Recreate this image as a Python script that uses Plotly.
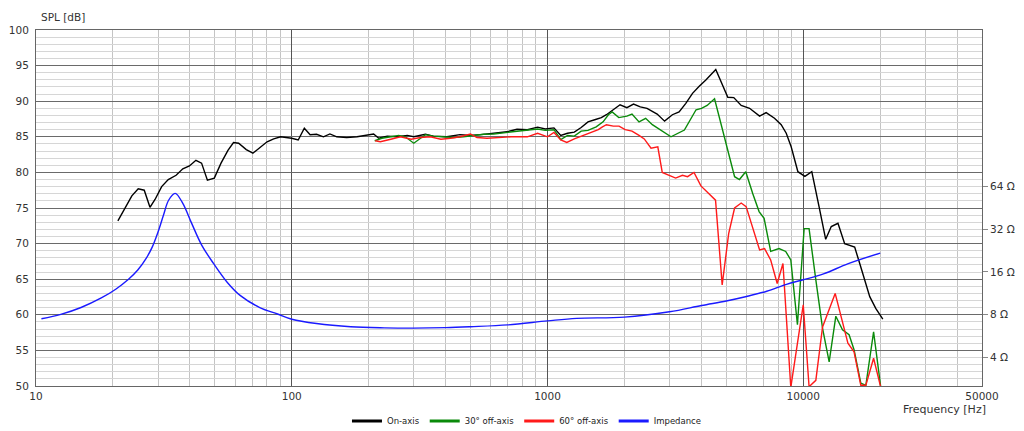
import plotly.graph_objects as go
import math

# ---------------- data ----------------
on_freq = [20.9, 22.3, 23.7, 25.1, 26.5, 27.9, 29.2, 31.0, 32.9, 35.3, 37.5, 39.8, 42.2, 44.4, 46.8, 49.8,
           52.9, 56.3, 59.2, 62.0, 66.4, 70.5, 74.9, 80.1, 85.0, 90.5, 95, 100, 106, 112, 118, 125, 133,
           141, 150, 164, 180, 198, 209, 219, 236, 258, 283, 300, 333, 358, 404, 455, 500, 548, 616,
           695, 760, 834, 915, 980, 1060, 1127, 1198, 1273, 1354, 1440, 1530, 1624, 1700, 1809, 1922,
           2044, 2170, 2306, 2450, 2684, 2870, 3078, 3270, 3474, 3690, 3920, 4170, 4550, 4770, 5070,
           5350, 5720, 6170, 6750, 7160, 7720, 8200, 8580, 8970, 9530, 10150, 10800, 11530, 12240,
           12870, 13670, 14520, 15890, 16630, 18200, 19210, 20470]
on_spl = [73.2, 75.0, 76.7, 77.7, 77.5, 75.1, 76.2, 78.0, 79.0, 79.6, 80.5, 80.9, 81.7, 81.3, 78.9, 79.2,
          81.3, 83.1, 84.2, 84.1, 83.2, 82.7, 83.4, 84.3, 84.7, 85.0, 84.9, 84.8, 84.55, 86.2, 85.3, 85.35, 85.0,
          85.4, 85.0, 84.9, 85.0, 85.2, 85.4, 84.8, 85.1, 85.0, 85.2, 85.0, 85.35, 85.1, 85.0, 85.3, 85.2, 85.3, 85.5,
          85.7, 86.05, 86.0, 86.35, 86.1, 86.25, 85.2, 85.5, 85.65, 86.3, 87.1, 87.4, 87.7, 88.1, 88.8, 89.5,
          89.1, 89.6, 89.2, 89.0, 88.2, 87.2, 88.1, 88.5, 89.7, 91.1, 92.1, 93.0, 94.45, 92.7, 90.55,
          90.5, 89.4, 89.0, 87.9, 88.4, 87.6, 86.7, 85.5, 83.6, 80.1, 79.45, 80.1, 75.2, 70.6,
          72.4, 72.85, 70.0, 69.5, 67.2, 62.55, 60.9, 59.4]

off30_freq = [211, 225, 244, 262, 278, 300, 319, 333, 358, 392, 429, 469, 514, 564, 616, 695, 760, 834,
              915, 980, 1060, 1127, 1198, 1273, 1354, 1440, 1550, 1650, 1730, 1790, 1900, 2044, 2140,
              2280, 2420, 2570, 2820, 3040, 3430, 3810, 4000, 4210, 4500, 5390, 5630, 5960, 6350,
              6720, 7030, 7460, 8040, 8540, 8940, 9490, 10080, 10540, 11200, 11900, 12630, 13410,
              14240, 15110, 15800, 16790, 17570, 18840, 20100]
off30_spl = [84.45, 84.8, 85.0, 85.2, 85.0, 84.1, 84.8, 85.3, 85.1, 85.0, 84.9, 85.0, 85.2, 85.35, 85.4, 85.6, 85.8, 85.9,
             86.1, 85.9, 86.0, 84.6, 85.2, 85.1, 85.8, 85.9, 86.4, 87.1, 88.1, 88.5, 87.7, 87.9, 88.2,
             87.1, 87.6, 86.7, 85.7, 85.0, 85.95, 88.8, 89.0, 89.4, 90.35, 79.4, 79.0, 80.1, 77.0,
             74.5, 73.55, 68.9, 69.3, 68.9, 67.7, 58.6, 72.1, 72.1, 64.9, 58.1, 53.4, 59.8,
             57.9, 57.2, 55.1, 50.4, 50.1, 57.6, 49.8]

off60_freq = [212, 222, 244, 266, 293, 319, 348, 383, 418, 455, 500, 530, 580, 640, 720, 834, 915, 1000,
              1060, 1127, 1190, 1273, 1354, 1440, 1510, 1580, 1640, 1700, 1809, 1904, 2013, 2140, 2280,
              2390, 2540, 2700, 2810, 2985, 3170, 3370, 3530, 3740, 3980, 4540, 4820, 5110, 5390, 5720,
              5980, 6750, 7060, 7460, 7910, 8330, 8940, 9490, 10000, 10540, 11200, 11900, 13330, 14950,
              15800, 16790, 17570, 18840, 20100]
off60_spl = [84.45, 84.3, 84.65, 85.0, 84.65, 84.9, 85.0, 84.65, 84.8, 85.0, 85.4, 84.9, 84.8, 84.9, 85.0, 85.0, 85.5, 85.0,
             85.6, 84.55, 84.2, 84.7, 85.05, 85.5, 85.7, 86.0, 86.4, 86.7, 86.5, 86.5, 86.0, 85.8, 85.2,
             84.7, 83.4, 83.6, 80.0, 79.6, 79.2, 79.6, 79.4, 80.0, 78.1, 76.1, 64.2, 71.4, 75.0, 75.7,
             75.2, 69.1, 69.3, 67.7, 64.4, 67.2, 49.8, 56.0, 61.4, 49.9, 50.8, 58.3, 63.0, 56.0,
             54.8, 50.1, 50.1, 53.9, 49.8]

imp_freq = [10.5, 12.5, 15, 18, 20.5, 23, 25, 27, 28.5, 30, 31.5, 33, 35, 37.5, 40.5, 44.5, 49.5, 56, 63,
            75, 88, 100, 125, 170, 230, 300, 400, 500, 700, 1000, 1300, 2000, 3000, 4000, 5000, 6000,
            7200, 8600, 10000, 12000, 15000, 20000]
imp_ohm = [7.5, 8.05, 9.0, 10.5, 12.1, 14.2, 16.5, 20.0, 24.0, 30.5, 40.0, 51.0, 57.0, 48.5, 35.5, 24.6, 18.3, 13.5, 10.9,
           9.0, 8.1, 7.45, 6.95, 6.6, 6.48, 6.45, 6.5, 6.6, 6.8, 7.25, 7.55, 7.7, 8.4, 9.3, 10.0, 10.75,
           11.7, 13.1, 14.1, 15.5, 18.3, 21.7]

x_tick_vals = [10, 100, 1000, 10000, 50000]
x_tick_text = ["10", "100", "1000", "10000", "50000"]
x_minor_vals = [m * d for d in (10, 100, 1000, 10000) for m in range(2, 10)][:-5]
imp_tick_vals = [4, 8, 16, 32, 64]
imp_tick_text = ["4 Ω", "8 Ω", "16 Ω", "32 Ω", "64 Ω"]

series = [
    ("On-axis", on_freq, on_spl, "#000000"),
    ("30° off-axis", off30_freq, off30_spl, "#0a8a0a"),
    ("60° off-axis", off60_freq, off60_spl, "#ff1a1a"),
]

fig = go.Figure()
for name, fx, fy, col in series:
    fig.add_trace(go.Scatter(x=fx, y=fy, mode="lines", line=dict(color=col, width=1.4),
                             showlegend=False, name=name))
fig.add_trace(go.Scatter(x=imp_freq, y=imp_ohm, mode="lines", line=dict(color="#1a1aff", width=1.4, shape="spline"),
                         yaxis="y2", showlegend=False, name="Impedance"))

# legend entries (thicker symbols)
for name, col in [("On-axis", "#000000"), ("30° off-axis", "#0a8a0a"),
                  ("60° off-axis", "#ff1a1a"), ("Impedance", "#1a1aff")]:
    fig.add_trace(go.Scatter(x=[None], y=[None], mode="lines", line=dict(color=col, width=3), name=name))

TICKFONT = dict(family="DejaVu Sans", size=10.5, color="#333333")

fig.update_layout(
    width=1024, height=431,
    margin=dict(l=36, r=42, t=30, b=45, autoexpand=False),
    paper_bgcolor="white", plot_bgcolor="white",
    showlegend=True,
    legend=dict(orientation="h", x=0.519, xanchor="center", y=-0.098, yanchor="middle",
                font=dict(family="DejaVu Sans", size=8.5, color="#222222"),
                itemwidth=30, tracegroupgap=0, bgcolor="rgba(0,0,0,0)"),
    xaxis=dict(type="log", range=[1, math.log10(50000)], automargin=False,
               tickmode="array", tickvals=x_tick_vals, ticktext=x_tick_text,
               showgrid=True, gridcolor="#555555", gridwidth=1,
               minor=dict(tickmode="array", tickvals=x_minor_vals, showgrid=True,
                          gridcolor="#c4c4c4", gridwidth=1, ticks=""),
               showline=True, linecolor="#666666", linewidth=1, mirror=True,
               ticks="", tickfont=TICKFONT, zeroline=False),
    yaxis=dict(range=[50, 100], tickmode="linear", tick0=50, dtick=5, automargin=False,
               showgrid=True, gridcolor="#6a6a6a", gridwidth=1,
               minor=dict(dtick=1, showgrid=True, gridcolor="#d6d6d6", gridwidth=1, ticks=""),
               showline=True, linecolor="#666666", linewidth=1, mirror=True,
               ticks="", tickfont=TICKFONT, zeroline=False, ticklabelstandoff=4),
    yaxis2=dict(type="log", overlaying="y", side="right", automargin=False,
                range=[math.log10(8 * 10 ** -0.5), math.log10(800)],
                tickmode="array", tickvals=imp_tick_vals, ticktext=imp_tick_text,
                showgrid=False, ticks="outside", ticklen=5, tickcolor="#888888",
                tickfont=TICKFONT, showline=False, zeroline=False),
    annotations=[
        dict(text="SPL [dB]", xref="paper", yref="paper", x=0.003, y=1.0365,
             xanchor="left", yanchor="middle", showarrow=False,
             font=dict(family="DejaVu Sans", size=10.5, color="#333333")),
        dict(text="Frequency [Hz]", xref="paper", yref="paper", x=1.0063, y=-0.0674,
             xanchor="right", yanchor="middle", showarrow=False,
             font=dict(family="DejaVu Sans", size=11, color="#333333")),
    ],
)

fig.write_html("out.html", config={"displayModeBar": False},
               post_script="document.body.style.margin='0';document.body.style.overflow='hidden';")
